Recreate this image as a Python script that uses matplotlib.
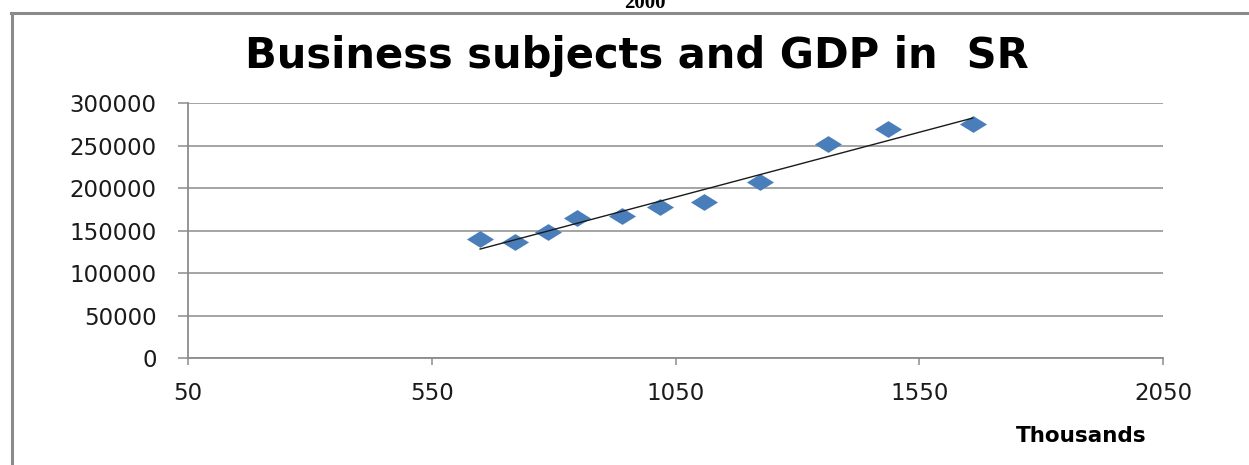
import numpy as np
import matplotlib
matplotlib.use("Agg")
import matplotlib.pyplot as plt
from matplotlib.lines import Line2D

# ---- data ----
subjects_thousands = [649, 721, 789, 847, 940, 1018, 1108, 1223, 1362, 1485, 1659]
gdp = [140000, 137200, 148900, 164700, 167800, 177600, 183500, 207800, 252100, 269800, 275600]
x_ticks = [50, 550, 1050, 1550, 2050]
y_ticks = [0, 50000, 100000, 150000, 200000, 250000, 300000]
title = "Business subjects and GDP in  SR"
x_unit_label = "Thousands"
top_caption = "2000"

W, H = 1249, 465
fig = plt.figure(figsize=(W / 100, H / 100), dpi=100)
fig.patch.set_facecolor("white")

# frame lines of the chart area
fig.add_artist(Line2D([12 / W, 12 / W], [0, 1 - 13 / H], transform=fig.transFigure,
                      color="#8a8a8a", lw=2.2))
fig.add_artist(Line2D([11 / W, 1], [1 - 13 / H, 1 - 13 / H], transform=fig.transFigure,
                      color="#8a8a8a", lw=2.2))

# caption at the very top (partly cut off in the reference)
fig.text(645 / W, 1 - 7.5 / H, top_caption, ha="center", va="baseline",
         family="Liberation Serif", weight="bold", fontsize=15)

left, right = 188 / W, 1163.3 / W
bottom, top = 1 - 358.3 / H, 1 - 103.3 / H
ax = fig.add_axes([left, bottom, right - left, top - bottom])
ax.set_xlim(50, 2050)
ax.set_ylim(0, 300000)

grid_c = "#8c8c8c"
ax.set_yticks(y_ticks)
ax.set_xticks(x_ticks)
ax.set_yticklabels([str(v) for v in y_ticks])
ax.set_xticklabels([str(v) for v in x_ticks])
ax.yaxis.grid(True, color=grid_c, lw=1.1)
ax.set_axisbelow(True)
for s in ["top", "right"]:
    ax.spines[s].set_visible(False)
ax.spines["left"].set_color(grid_c)
ax.spines["left"].set_linewidth(1.3)
ax.spines["bottom"].set_color(grid_c)
ax.spines["bottom"].set_linewidth(1.3)
ax.tick_params(axis="y", direction="out", length=7.5, width=1.1, color=grid_c,
               pad=15, labelsize=16.5, labelcolor="#1a1a1a")
ax.tick_params(axis="x", direction="out", length=5, width=1.1, color=grid_c,
               pad=12, labelsize=16.5, labelcolor="#1a1a1a")
for lab in ax.get_xticklabels() + ax.get_yticklabels():
    lab.set_family("DejaVu Sans")

# diamond markers (horizontally wide, like the reference)
diamond = [(-1, 0), (0, 0.62), (1, 0), (0, -0.62), (-1, 0)]
ax.plot(subjects_thousands, gdp, linestyle="none", marker=diamond,
        markersize=19.5, color="#4a7ebb", markeredgewidth=0, zorder=3)

# linear trendline
coef = np.polyfit(subjects_thousands, gdp, 1)
xs = np.array([min(subjects_thousands), max(subjects_thousands)])
ax.plot(xs, np.polyval(coef, xs), color="#1a1a1a", lw=1.0, zorder=4)

# title and unit label
fig.text(637 / W, 1 - 56 / H, title, ha="center", va="center",
         family="DejaVu Sans", weight="bold", fontsize=30)
fig.text(1147 / W, 1 - 436 / H, x_unit_label, ha="right", va="center",
         family="DejaVu Sans", weight="bold", fontsize=15.5)

fig.savefig("out.png", dpi=100, facecolor="white")
